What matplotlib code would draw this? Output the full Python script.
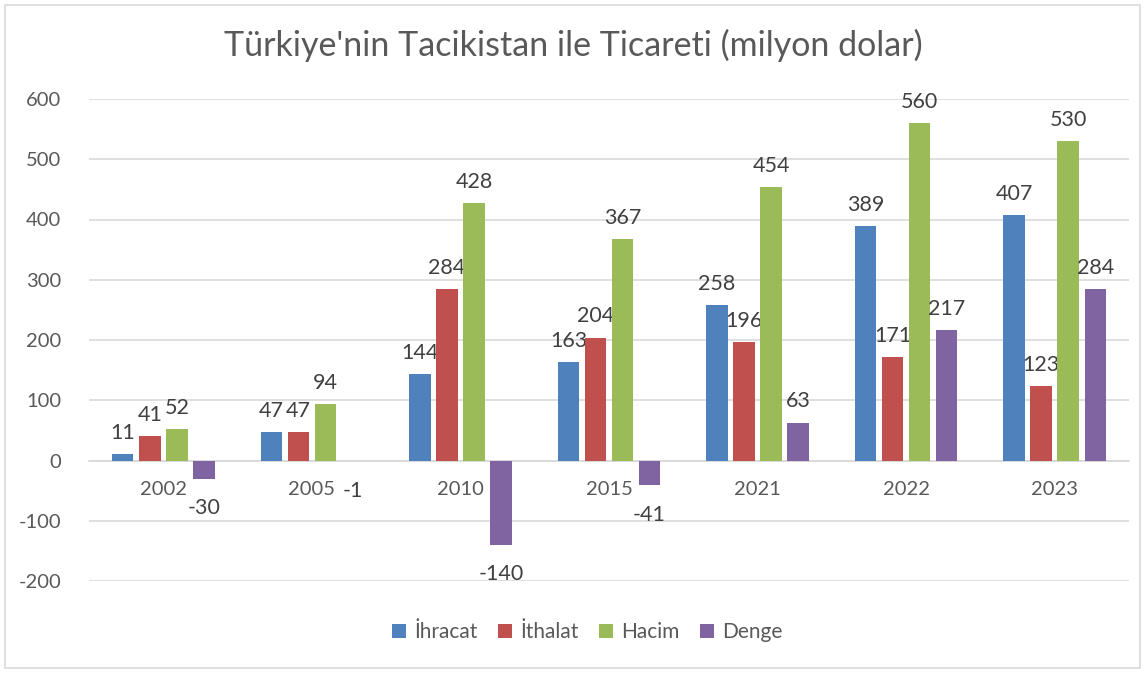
import matplotlib
matplotlib.use("Agg")
import matplotlib.pyplot as plt
from matplotlib.patches import Rectangle
import numpy as np

years = ["2002", "2005", "2010", "2015", "2021", "2022", "2023"]
series_names = ["İhracat", "İthalat", "Hacim", "Denge"]
ihracat = [11, 47, 144, 163, 258, 389, 407]
ithalat = [41, 47, 284, 204, 196, 171, 123]
hacim = [52, 94, 428, 367, 454, 560, 530]
denge = [-30, -1, -140, -41, 63, 217, 284]
colors = ["#4F81BD", "#C0504D", "#9BBB59", "#8064A2"]
yticks = [-200, -100, 0, 100, 200, 300, 400, 500, 600]

plt.rcParams['font.family'] = ['Lato', 'DejaVu Sans']
grey = "#595959"

fig = plt.figure(figsize=(11.47, 6.73), dpi=100)
ax = fig.add_axes([89/1147, 1 - 581/673, (1129 - 89)/1147, (581 - 99)/673])

x = np.arange(len(years))
step = 0.182
width = 0.145
all_series = [ihracat, ithalat, hacim, denge]
for i, (name, vals, c) in enumerate(zip(series_names, all_series, colors)):
    pos = x + (i - 1.5) * step
    ax.bar(pos, vals, width=width, color=c, label=name, zorder=3)
    for p, v in zip(pos, vals):
        if v >= 0:
            ax.annotate(str(v), (p, v), xytext=(0, 8), textcoords="offset points",
                        ha="center", va="bottom", fontsize=15.5, color="#404040")
        else:
            ax.annotate(str(v), (p, v), xytext=(0, -14), textcoords="offset points",
                        ha="center", va="top", fontsize=15.5, color="#404040")

ax.set_xlim(-0.5, len(years) - 0.5)
ax.set_ylim(-200, 600)
ax.set_yticks(yticks)
ax.set_yticklabels([str(t) for t in yticks])
ax.grid(axis="y", color="#D9D9D9", linewidth=1.2, zorder=0)
for s in ["top", "right", "left"]:
    ax.spines[s].set_visible(False)
ax.spines["bottom"].set_position(("data", 0))
ax.spines["bottom"].set_color("#D9D9D9")
ax.spines["bottom"].set_linewidth(1.2)
ax.set_xticks(x)
ax.set_xticklabels(years)
ax.tick_params(axis="x", length=0, pad=15, labelsize=14.5, labelcolor=grey)
ax.tick_params(axis="y", length=0, pad=20, labelsize=14.5, labelcolor=grey)

fig.text(0.5, 1 - 45/673, "Türkiye'nin Tacikistan ile Ticareti (milyon dolar)",
         ha="center", va="center", fontsize=24.5, color=grey)

fig.legend(loc="center", bbox_to_anchor=(0.512, 1 - 632/673), ncol=4, frameon=False,
           fontsize=15, labelcolor=grey, handlelength=0.65, handleheight=0.65,
           handletextpad=0.4, columnspacing=1.0)

fig.patches.append(Rectangle((5/1147, 5/673), 1135/1147, 663/673, transform=fig.transFigure,
                             fill=False, edgecolor="#D9D9D9", linewidth=1.2))

fig.savefig("out.png", dpi=100)
